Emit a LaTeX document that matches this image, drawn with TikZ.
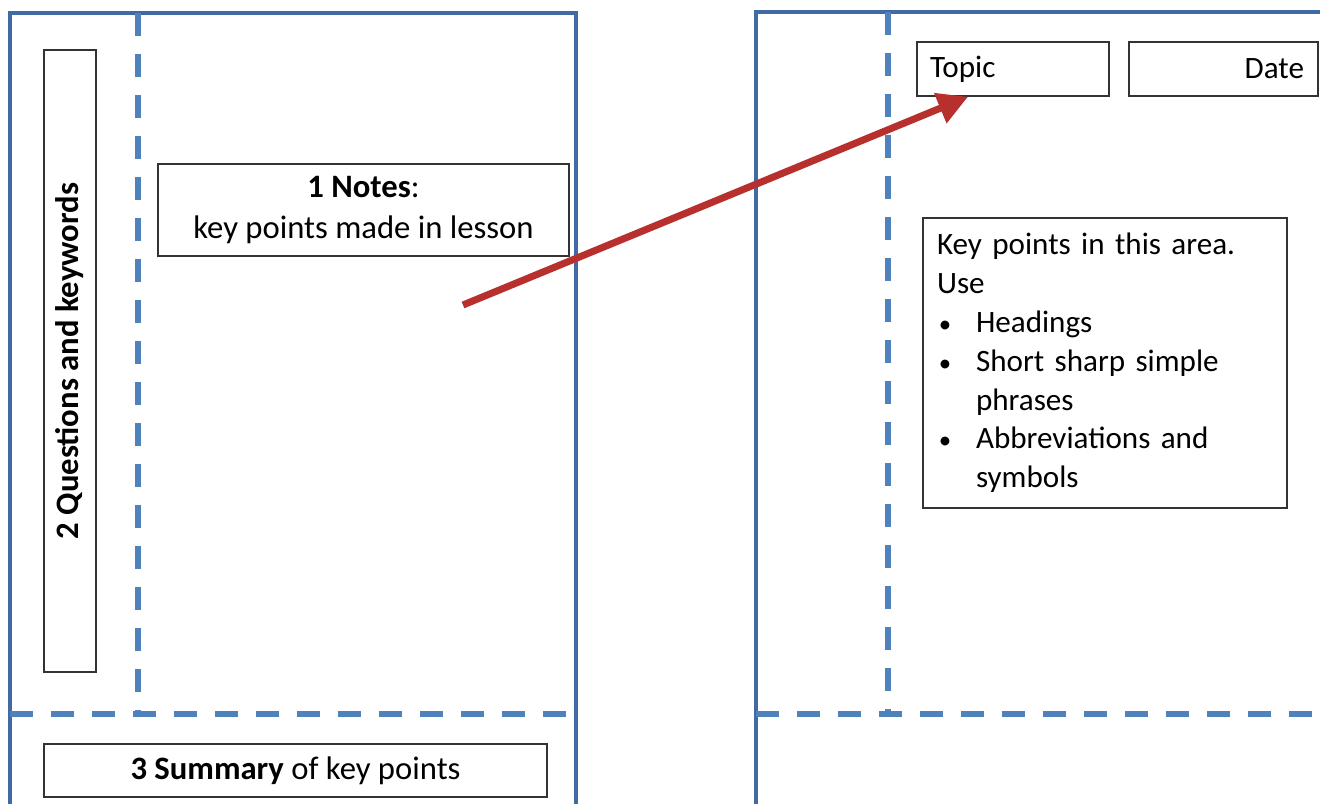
\documentclass[tikz,border=0pt]{standalone}
\usepackage{fontspec}
\setmainfont{Carlito}
\usetikzlibrary{shapes}
\usetikzlibrary{arrows.meta}
\definecolor{framecol}{RGB}{65,106,165}
\definecolor{foldcol}{RGB}{79,129,189}
\definecolor{arrowcol}{RGB}{183,48,45}
\tikzstyle{frame} = [draw=framecol, line width=2pt]
\tikzstyle{fold} = [draw=foldcol, line width=3.1pt, dash pattern=on 0.46cm off 0.36cm]
\tikzstyle{box} = [draw=black!80, line width=0.9pt, inner sep=0pt, font=\fontsize{17.7}{22.1}\selectfont]
\tikzstyle{bigbox} = [box, font=\fontsize{18.6}{22.8}\selectfont]
\tikzstyle{line} = [draw=arrowcol, line width=4pt, -{Triangle[length=0.6cm,width=0.62cm]}]
\newcommand{\bul}{\makebox[0.78cm][l]{\hspace{1pt}\scalebox{0.8}{\textbullet}}}

\begin{document}
\begin{tikzpicture}[x=0.02cm, y=-0.02cm]
\useasboundingbox (0,0) rectangle (1320,804);
\clip (0,0) rectangle (1320,804);
% left page
\draw[frame] (10,830) -- (10,13) -- (576,13) -- (576,830);
\draw[fold] (138,13) -- (138,714);
\draw[fold] (10,714) -- (576,714);
\node[bigbox, rotate=90, minimum width=12.44cm, minimum height=1.04cm] (quest) at (70,361) {\textbf{2 Questions and keywords}};
\node[bigbox, minimum width=8.22cm, minimum height=1.84cm, align=center] (notes) at (363.5,210) {\textbf{1 Notes}:\\[1pt]key points made in lesson};
\node[bigbox, minimum width=10.06cm, minimum height=1.06cm] (summ) at (295.5,770.5) {\textbf{3 Summary} of key points};
% right page
\draw[frame] (756,830) -- (756,12) -- (1340,12);
\draw[fold] (888,12) -- (888,714);
\draw[fold] (756,714) -- (1340,714);
\node[box, minimum width=3.84cm, minimum height=1.08cm, text width=3.32cm, align=left] (topic) at (1013,69) {Topic};
\node[box, minimum width=3.78cm, minimum height=1.08cm, text width=3.22cm, align=right] (date) at (1223.5,69) {Date};
\node[box, minimum width=7.28cm, minimum height=5.8cm, text width=6.72cm, align=left] (keys) at (1105,363) {Key points in this area.\\
Use\\
\bul Headings\\
\bul Short sharp simple\\
\hspace*{0.78cm}phrases\\
\bul Abbreviations and\\
\hspace*{0.78cm}symbols};
% arrow
\coordinate (tail) at (463,305);
\draw[line] (tail) -- ([xshift=-0.9cm]topic.south);
\end{tikzpicture}
\end{document}
